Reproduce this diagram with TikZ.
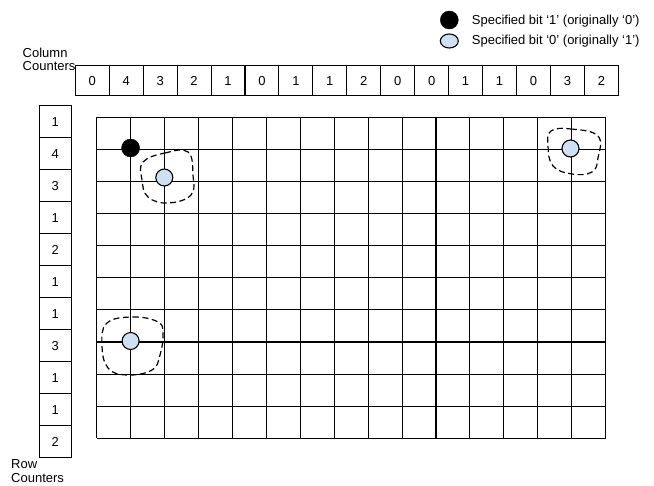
\documentclass[tikz,border=0pt]{standalone}
\usepackage{fontspec}
\setmainfont{Liberation Sans}
\usetikzlibrary{shapes.geometric}
\definecolor{bitblue}{RGB}{207,224,242}
\begin{document}
\begin{tikzpicture}[x=1pt,y=-1pt,
  lbl/.style={font=\fontsize{13}{15}\selectfont, inner sep=0pt},
  ccell/.style={draw, line width=1.1pt, minimum width=33.94pt, minimum height=29.5pt, inner sep=0pt, font=\fontsize{13}{15}\selectfont},
  rcell/.style={draw, line width=1.1pt, minimum width=32.3pt, minimum height=32pt, inner sep=0pt, font=\fontsize{13}{15}\selectfont},
  gline/.style={line width=1.1pt},
  setone/.style={circle, fill=black, draw=black, minimum size=18pt, inner sep=0pt},
  setzero/.style={circle, fill=bitblue, draw=black, line width=1.1pt, minimum size=17pt, inner sep=0pt},
  dashloop/.style={line width=1.2pt, dash pattern=on 6pt off 3.5pt}
]
\useasboundingbox (0,0) rectangle (654,486);

% legend
\node[setone] (leg1) at (449.3,20) {};
\node[ellipse, fill=bitblue, draw=black, line width=1.1pt, minimum width=18pt, minimum height=14pt, inner sep=0pt] (leg0) at (449.3,41) {};
\node[lbl, anchor=base west] (legt1) at (471.7,24.5) {Specified bit ‘1’ (originally ‘0’)};
\node[lbl, anchor=base west] (legt0) at (471.7,45) {Specified bit ‘0’ (originally ‘1’)};

% labels
\node[lbl, anchor=base west] (colA) at (22.5,57.5) {Column};
\node[lbl, anchor=base west] (colB) at (22.5,70.5) {Counters};
\node[lbl, anchor=base west] (rowA) at (11,468.3) {Row};
\node[lbl, anchor=base west] (rowB) at (11,482.5) {Counters};

% column counters
\foreach \v [count=\i from 0] in {0,4,3,2,1,0,1,1,2,0,0,1,1,0,3,2}
  \node[ccell] (c\i) at ({75.3+33.94*(\i+0.5)},80.7) {\v};

% row counters
\foreach \v [count=\j from 0] in {1,4,3,1,2,1,1,3,1,1,2}
  \node[rcell] (r\j) at (55.2,{105.7+32*(\j+0.5)}) {\v};

% grid
\foreach \k in {0,...,15}
  \draw[gline] ({96.7+33.93*\k},117.3) -- ({96.7+33.93*\k},438.3);
\foreach \k in {0,...,10}
  \draw[gline] (96.7,{117.3+32.1*\k}) -- (605.7,{117.3+32.1*\k});

% dashed loops
\draw[dashloop] plot[smooth cycle, tension=0.7] coordinates {(143,162) (165,153) (188,152) (193,175) (191,195) (168,203) (148,197) (142,180)};
\draw[dashloop] plot[smooth cycle, tension=0.7] coordinates {(107,323) (133,317) (158,322) (163,334) (160,355) (152,370) (127,375) (108,368) (102,345)};
\draw[dashloop] plot[smooth cycle, tension=0.7] coordinates {(551,131) (571,129) (598,136) (598,158) (592,172) (572,174) (553,166) (548,146)};

% specified bits
\node[setone] (b1) at (130.6,148) {};
\node[setzero] (z1) at (164.3,177.5) {};
\node[setzero] (z2) at (130.6,341) {};
\node[setzero] (z3) at (570.5,148.5) {};
\end{tikzpicture}
\end{document}
